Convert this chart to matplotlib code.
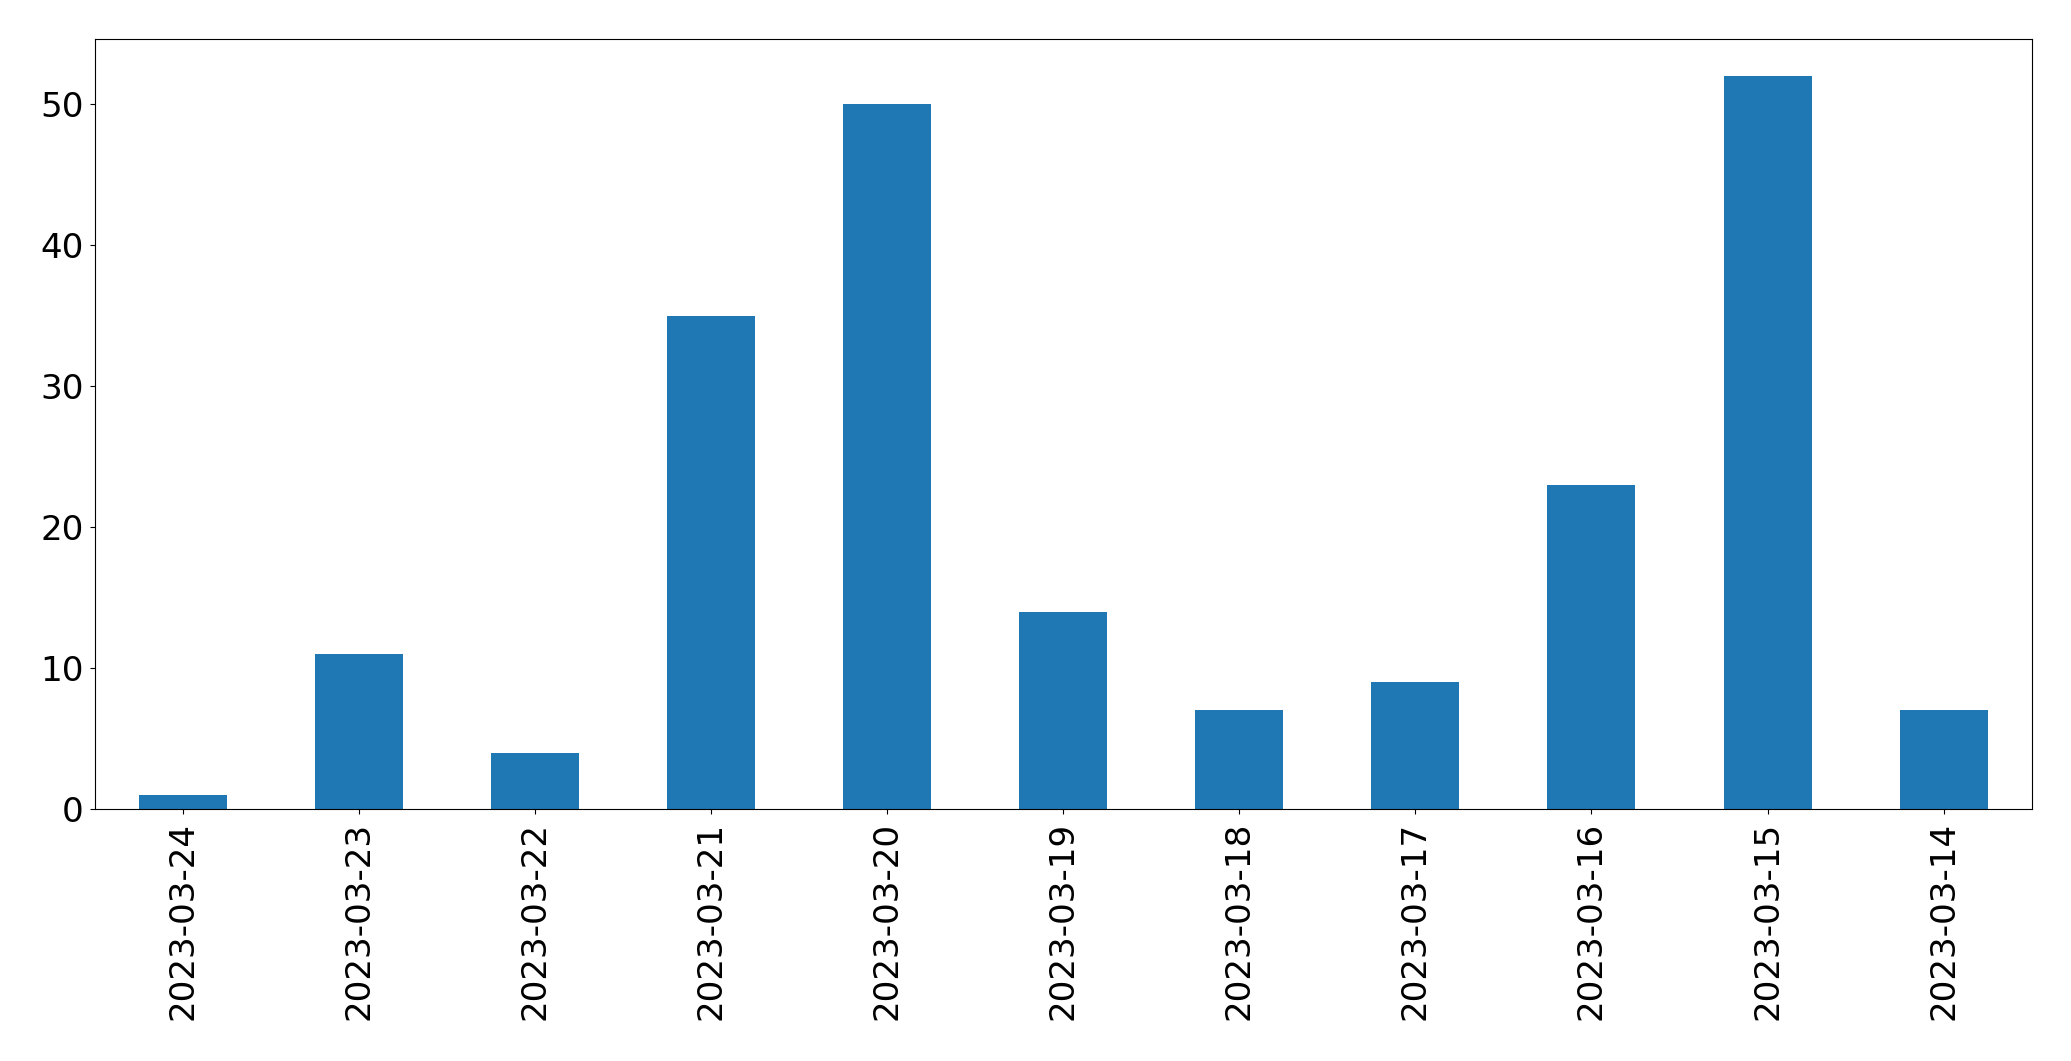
import matplotlib
matplotlib.use("Agg")
import matplotlib.pyplot as plt
import numpy as np

dates = ["2023-03-24", "2023-03-23", "2023-03-22", "2023-03-21", "2023-03-20",
         "2023-03-19", "2023-03-18", "2023-03-17", "2023-03-16", "2023-03-15",
         "2023-03-14"]
counts = [1, 11, 4, 35, 50, 14, 7, 9, 23, 52, 7]

W, H = 2071, 1061
fig = plt.figure(figsize=(W / 100, H / 100), dpi=100)
ax = fig.add_axes([94.7 / W, 1 - 809 / H, (2031.7 - 94.7) / W, (809 - 39.3) / H])

x = np.arange(len(dates))
ax.bar(x, counts, width=0.5, color="#1f77b4")
ax.set_xlim(-0.5, len(dates) - 0.5)
ax.set_ylim(0, max(counts) * 1.05)
ax.set_xticks(x)
ax.set_xticklabels(dates, rotation=90)
ax.set_yticks([0, 10, 20, 30, 40, 50])
ax.tick_params(axis="both", labelsize=24.6, length=3.85)
ax.tick_params(axis="x", pad=5.3)
ax.tick_params(axis="y", pad=4.2)

fig.savefig("out.png", dpi=100)
